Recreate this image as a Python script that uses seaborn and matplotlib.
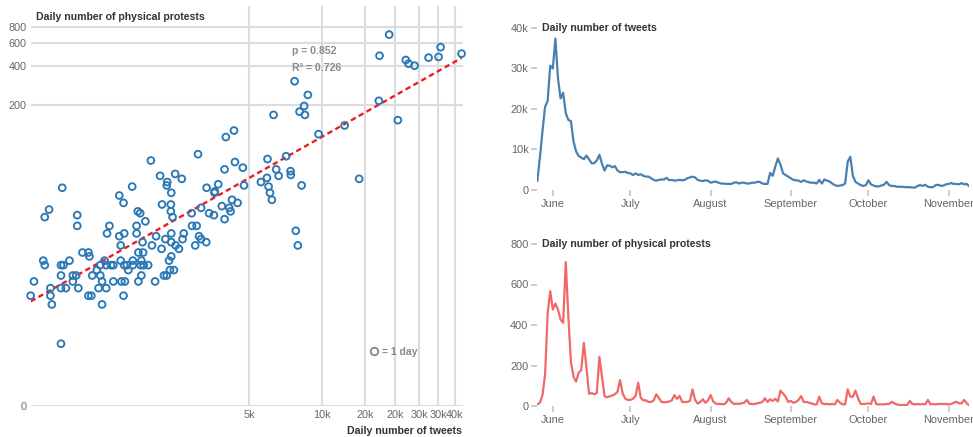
import numpy as np
import pandas as pd
import matplotlib
matplotlib.use("Agg")
import matplotlib.pyplot as plt
import matplotlib.dates as mdates
from matplotlib.lines import Line2D
import seaborn as sns

# one point per day: tweets vs physical protests
scatter_tweets = [
    18840, 17200, 30670, 37410, 27370, 30090, 22070, 22640, 23970, 7690,
    8720, 8420, 8060, 8480, 6300, 17090, 20460, 12350, 9650, 4330,
    4010, 3080, 1970, 5950, 7100, 4370, 3960, 4710, 6460, 6610,
    7400, 7420, 14180, 2150, 2480, 2640, 2300, 2290, 2390, 1650,
    850, 1460, 1520, 2190, 2380, 3340, 3730, 3610, 3600, 5590,
    5920, 4760, 6010, 6090, 6200, 8220, 4250, 4480, 3860, 4140,
    4190, 3170, 2900, 3420, 3580, 3960, 750, 720, 980, 1740,
    1780, 1870, 2380, 2420, 980, 1330, 1300, 1460, 1530, 1720,
    1720, 2070, 2260, 2390, 2390, 2490, 2570, 2690, 2660, 2910,
    3040, 3000, 3110, 3170, 3330, 7780, 7930, 1480, 1030, 1090,
    1100, 710, 720, 840, 860, 910, 650, 630, 760, 760,
    770, 840, 840, 880, 940, 970, 940, 990, 1090, 1120,
    1130, 1180, 1220, 1220, 1240, 1240, 1200, 1290, 1270, 1290,
    1350, 1380, 1380, 1480, 1530, 1570, 1590, 1660, 1660, 1490,
    1540, 1520, 1750, 1830, 1820, 1750, 1790, 1840, 1920, 1800,
    1800, 1990, 2050, 2180, 2340, 2390, 2230, 2290, 2360, 2450,
    840,
]
scatter_protests = [
    700, 482, 560, 500, 466, 472, 447, 419, 404, 307,
    241, 198, 179, 169, 169, 217, 154, 140, 120, 128,
    114, 84, 75, 77, 81, 73, 64, 66, 64, 57,
    62, 58, 54, 57, 59, 54, 51, 48, 42, 47,
    46, 40, 35, 34, 34, 46, 49, 43, 42, 51,
    55, 48, 47, 42, 37, 48, 37, 35, 33, 32,
    30, 32, 29, 29, 28, 26, 31, 27, 28, 30,
    29, 25, 30, 27, 23, 23, 20, 19, 20, 23,
    20, 19, 18, 20, 17, 16, 15, 20, 18, 23,
    23, 16, 19, 18, 17, 21, 16, 16, 14, 14,
    13, 12, 11, 11, 11, 12, 8, 6, 7, 6,
    5, 9, 7, 7, 9, 9, 8, 7, 6, 6,
    9, 10, 11, 9, 8, 5, 7, 7, 12, 11,
    11, 11, 8, 12, 11, 11, 10, 11, 12, 8,
    8, 6, 14, 14, 17, 8, 11, 11, 11, 12,
    9, 16, 8, 15, 12, 13, 9, 9, 10, 10,
    2,
]
# statistics as printed on the chart
rho_text = "0.852"
r2_text = "0.726"

# daily series from 2020-05-26
start_date = "2020-05-26"
tweets_daily = [
    2200, 8000, 14500, 20500, 22000, 30700, 30000, 37400, 27500, 22600,
    24000, 19000, 17300, 17000, 12000, 9500, 8400, 8000, 7600, 8500,
    7600, 6600, 6600, 7300, 8700, 6500, 4800, 6100, 6000, 5600,
    5900, 4800, 4400, 4400, 4500, 4200, 4100, 3700, 4100, 3700,
    3900, 3500, 3300, 3300, 2900, 2500, 2300, 2500, 2600, 2600,
    3000, 2400, 2500, 2300, 2400, 2500, 2400, 2500, 2900, 3100,
    3300, 3100, 2500, 2300, 2200, 2400, 2300, 1800, 2000, 2100,
    1800, 1600, 1600, 1500, 1500, 1500, 1800, 1900, 1600, 1800,
    1800, 1600, 1600, 1800, 1800, 2000, 2000, 1600, 1500, 1500,
    4200, 3500, 5800, 7800, 6300, 4100, 3700, 3300, 2900, 2500,
    2400, 2300, 2000, 2400, 2100, 1900, 1800, 1800, 1600, 2500,
    1600, 2600, 2300, 2100, 1600, 1200, 1000, 1100, 1200, 1600,
    7000, 8200, 3500, 2000, 1600, 1200, 1000, 1200, 2400, 1400,
    1100, 900, 900, 1100, 1300, 2000, 1200, 1000, 1000, 800,
    800, 800, 700, 700, 700, 600, 600, 1000, 1200, 1000,
    1300, 800, 700, 700, 1200, 1300, 1000, 1100, 1400, 1500,
    1700, 1500, 1500, 1400, 1700, 1400, 1500, 900,
]
protests_daily = [
    8, 16, 54, 153, 457, 567, 476, 506, 476, 427,
    411, 711, 440, 218, 145, 120, 165, 177, 312, 190,
    60, 64, 58, 64, 243, 145, 48, 43, 48, 52,
    58, 70, 128, 62, 36, 30, 30, 36, 50, 115,
    40, 28, 28, 20, 20, 28, 58, 40, 20, 18,
    20, 22, 28, 54, 35, 50, 20, 20, 20, 25,
    82, 30, 12, 20, 33, 16, 28, 54, 22, 12,
    10, 10, 8, 16, 38, 20, 10, 11, 11, 13,
    16, 30, 11, 10, 10, 13, 16, 20, 38, 20,
    33, 25, 35, 22, 76, 62, 46, 20, 25, 16,
    20, 30, 49, 20, 20, 16, 13, 8, 8, 46,
    13, 10, 10, 8, 10, 8, 30, 16, 8, 8,
    82, 46, 46, 76, 38, 10, 10, 11, 13, 10,
    46, 10, 8, 8, 8, 10, 10, 21, 13, 8,
    5, 5, 5, 5, 25, 10, 8, 10, 8, 10,
    8, 30, 8, 10, 8, 10, 10, 10, 10, 8,
    10, 16, 21, 13, 13, 30, 13, 3,
]

scatter_xticks = [5000, 10000, 15000, 20000, 25000, 30000, 35000]
scatter_xticklabels = ["5k", "10k", "20k", "20k", "30k", "30k", "40k"]
scatter_yticks = [0, 200, 400, 600, 800]
tweet_yticks = [0, 10000, 20000, 30000, 40000]
tweet_yticklabels = ["0", "10k", "20k", "30k", "40k"]
protest_yticks = [0, 200, 400, 600, 800]

BLUE = "#2a78b5"
LINE_BLUE = "#4a80b0"
LINE_RED = "#f06868"
GRID = "#dcdcdc"
TICK_TXT = "#666666"
TITLE_TXT = "#333333"
NOTE_TXT = "#8a8a8a"

sns.set_style("white")
plt.rcParams["font.family"] = ["Liberation Sans", "DejaVu Sans"]

W, H = 973, 437
fig = plt.figure(figsize=(W / 100, H / 100), dpi=100)


def px_axes(x0, y0, x1, y1):
    return fig.add_axes([x0 / W, 1 - y1 / H, (x1 - x0) / W, (y1 - y0) / H])


def fwd(v):
    return np.log10(1 + np.clip(v, 0, None))


def inv(v):
    return 10 ** v - 1


# ---- scatter ----
ax = px_axes(31, 6, 463, 406)
df = pd.DataFrame({"tweets": scatter_tweets, "protests": scatter_protests})

# least squares fit in log-log space
lx = np.log10(1 + df["tweets"].values)
ly = np.log10(1 + df["protests"].values)
slope, icpt = np.polyfit(lx, ly, 1)
xs = np.geomspace(df["tweets"].min(), df["tweets"].max(), 60)
ys = 10 ** (slope * np.log10(1 + xs) + icpt) - 1
ax.plot(xs, ys, color="#ee1c1c", lw=1.7, dashes=(2.3, 1.5), zorder=3)

sns.scatterplot(data=df, x="tweets", y="protests", ax=ax, s=24,
                facecolor="none", edgecolor=BLUE, linewidth=1.35, zorder=4,
                clip_on=False)

ax.set_xscale("function", functions=(fwd, inv))
ax.set_yscale("function", functions=(fwd, inv))
ax.set_xlim(632, 37930)
ax.set_ylim(0, 1160)
ax.set_xticks(scatter_xticks, labels=scatter_xticklabels)
ax.set_yticks(scatter_yticks, labels=[str(t) for t in scatter_yticks])
ax.minorticks_off()
ax.grid(True, color=GRID, lw=1.5)
ax.set_axisbelow(True)
for s in ax.spines.values():
    s.set_visible(False)
ax.tick_params(length=0, labelsize=7.8, labelcolor=TICK_TXT, pad=3)
ax.set_xlabel("")
ax.set_ylabel("")

fig.text(36 / W, 1 - 17 / H, "Daily number of physical protests", fontsize=7.6,
         fontweight="bold", color=TITLE_TXT, va="center", ha="left")
fig.text(462 / W, 1 - 431 / H, "Daily number of tweets", fontsize=7.6,
         fontweight="bold", color=TITLE_TXT, va="center", ha="right")
fig.text(292 / W, 1 - 51 / H, f"p = {rho_text}", fontsize=7.6,
         fontweight="bold", color=NOTE_TXT, va="center", ha="left")
fig.text(292 / W, 1 - 68 / H, f"R\u00b2 = {r2_text}", fontsize=7.6,
         fontweight="bold", color=NOTE_TXT, va="center", ha="left")

handle = Line2D([], [], ls="none", marker="o", ms=5.4, mfc="none",
                mec="#8a8a8a", mew=1.35)
leg = ax.legend([handle], ["= 1 day"], loc="center left",
                bbox_to_anchor=((370 - 31) / 432, (406 - 352) / 400),
                frameon=False, handlelength=0.8, handletextpad=0.3,
                borderpad=0, borderaxespad=0,
                prop={"size": 7.6, "weight": "bold"})
for t in leg.get_texts():
    t.set_color(NOTE_TXT)

# ---- time series ----
dates = pd.date_range(start_date, periods=len(tweets_daily), freq="D")
ts = pd.DataFrame({"date": dates, "tweets": tweets_daily,
                   "protests": protests_daily})


def style_ts(a, yticks, ylabels, title):
    a.set_xlim(dates[0], dates[-1])
    a.set_ylim(yticks[0], yticks[-1])
    a.set_yticks(yticks, labels=ylabels)
    a.xaxis.set_major_locator(mdates.MonthLocator())
    a.xaxis.set_major_formatter(mdates.DateFormatter("%B"))
    for s in a.spines.values():
        s.set_visible(False)
    a.tick_params(axis="both", bottom=True, left=True, length=4.3, width=1.4,
                  color="#cccccc", labelsize=7.9, labelcolor=TICK_TXT)
    a.tick_params(axis="x", pad=2.5)
    a.tick_params(axis="y", pad=2)
    a.set_xlabel("")
    a.set_ylabel("")
    a.text(0.011, 1.0, title, transform=a.transAxes, fontsize=7.6,
           fontweight="bold", color=TITLE_TXT, va="center", ha="left")


ax2 = px_axes(537.3, 28, 969.3, 190)
sns.lineplot(data=ts, x="date", y="tweets", ax=ax2, color=LINE_BLUE, lw=1.6)
style_ts(ax2, tweet_yticks, tweet_yticklabels, "Daily number of tweets")

ax3 = px_axes(537.3, 244, 969.3, 406)
sns.lineplot(data=ts, x="date", y="protests", ax=ax3, color=LINE_RED, lw=1.6)
style_ts(ax3, protest_yticks, [str(t) for t in protest_yticks],
         "Daily number of physical protests")

fig.savefig("out.png", dpi=100)
